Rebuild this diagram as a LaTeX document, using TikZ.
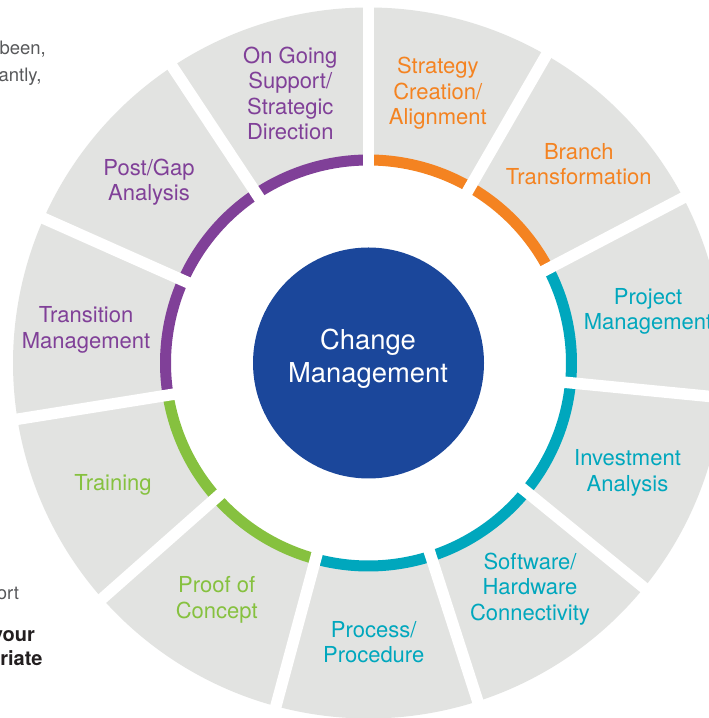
\documentclass[tikz,border=0pt]{standalone}
\usepackage{fontspec}
\setmainfont{TeX Gyre Heros}
\definecolor{segray}{RGB}{226,227,225}
\definecolor{cmpurple}{RGB}{128,64,152}
\definecolor{cmorange}{RGB}{244,131,33}
\definecolor{cmteal}{RGB}{0,167,189}
\definecolor{cmgreen}{RGB}{134,193,63}
\definecolor{cmblue}{RGB}{27,71,155}
\definecolor{bodygray}{RGB}{88,89,91}
\definecolor{bodyblack}{RGB}{35,31,32}
\newcommand\labtab[1]{\begin{tabular}[t]{@{}c@{}}#1\end{tabular}}
\begin{document}
\begin{tikzpicture}[x=1pt,y=1pt,
  lbl/.style={anchor=base, inner sep=0pt, font=\fontsize{22}{25.5}\selectfont},
  corelbl/.style={anchor=base, inner sep=0pt, text=white, font=\fontsize{27.4}{33}\selectfont},
  frag/.style={anchor=base east, inner sep=0pt, text=bodygray, font=\fontsize{18.5}{26}\selectfont},
  fragb/.style={anchor=base east, inner sep=0pt, text=bodyblack, font=\fontsize{20}{24}\selectfont\bfseries},
  gapline/.style={white, line width=11.5pt}]
\useasboundingbox (0,0) rectangle (709,718);
\fill[white] (0,0) rectangle (709,718);
\coordinate (c) at (368.5,355);
\begin{scope}[shift={(c)}]
  \foreach \a/\b/\col in {90/123.5/cmpurple, 123.5/156/cmpurple, 156/189.1/cmpurple,
      189.1/221.5/cmgreen, 221.5/254.9/cmgreen, 254.9/287.9/cmteal, 287.9/320.8/cmteal,
      320.8/354.4/cmteal, 354.4/387.7/cmteal, 387.7/420/cmorange, 420/450/cmorange}{
    \fill[segray] (\a:208pt) arc[start angle=\a, end angle=\b, radius=208pt]
      -- (\b:355.5pt) arc[start angle=\b, end angle=\a, radius=355.5pt] -- cycle;
    \fill[\col] (\a:197.5pt) arc[start angle=\a, end angle=\b, radius=197.5pt]
      -- (\b:208.5pt) arc[start angle=\b, end angle=\a, radius=208.5pt] -- cycle;
  }
  \foreach \a in {90,123.5,156,189.1,221.5,254.9,287.9,320.8,354.4,387.7,420}{
    \draw[gapline] (\a:150pt) -- (\a:420pt);
  }
\end{scope}
\node[circle, fill=cmblue, minimum size=231pt, inner sep=0pt] (core) at (c) {};
\node[corelbl] (coretext) at (368,368) {\labtab{Change\\Management}};

\node[lbl, text=cmpurple] (ongoing) at (290.3,654.5) {\labtab{On Going\\Support/\\Strategic\\Direction}};
\node[lbl, text=cmorange] (strategy) at (437.8,644) {\labtab{Strategy\\Creation/\\Alignment}};
\node[lbl, text=cmorange] (branch) at (578.8,558.5) {\labtab{Branch\\Transformation}};
\node[lbl, text=cmteal] (project) at (648,413.5) {\labtab{Project\\Management}};
\node[lbl, text=cmteal] (invest) at (627.5,252) {\labtab{Investment\\Analysis}};
\node[lbl, text=cmteal] (software) at (530,148.5) {\labtab{Software/\\Hardware\\Connectivity}};
\node[lbl, text=cmteal] (process) at (373.7,80.5) {\labtab{Process/\\Procedure}};
\node[lbl, text=cmgreen] (proof) at (216.7,125) {\labtab{Proof of\\Concept}};
\node[lbl, text=cmgreen] (training) at (113,227) {\labtab{Training}};
\node[lbl, text=cmpurple] (transition) at (86,395) {\labtab{Transition\\Management}};
\node[lbl, text=cmpurple] (postgap) at (149,542.5) {\labtab{Post/Gap\\Analysis}};

\node[frag] (f1) at (46,663) {been,};
\node[frag] (f2) at (41.7,636.3) {antly,};
\node[frag] (f3) at (19.3,118.7) {ort};
\node[fragb] (f4) at (35,76.3) {your};
\node[fragb] (f5) at (42.7,52) {riate};
\end{tikzpicture}
\end{document}
